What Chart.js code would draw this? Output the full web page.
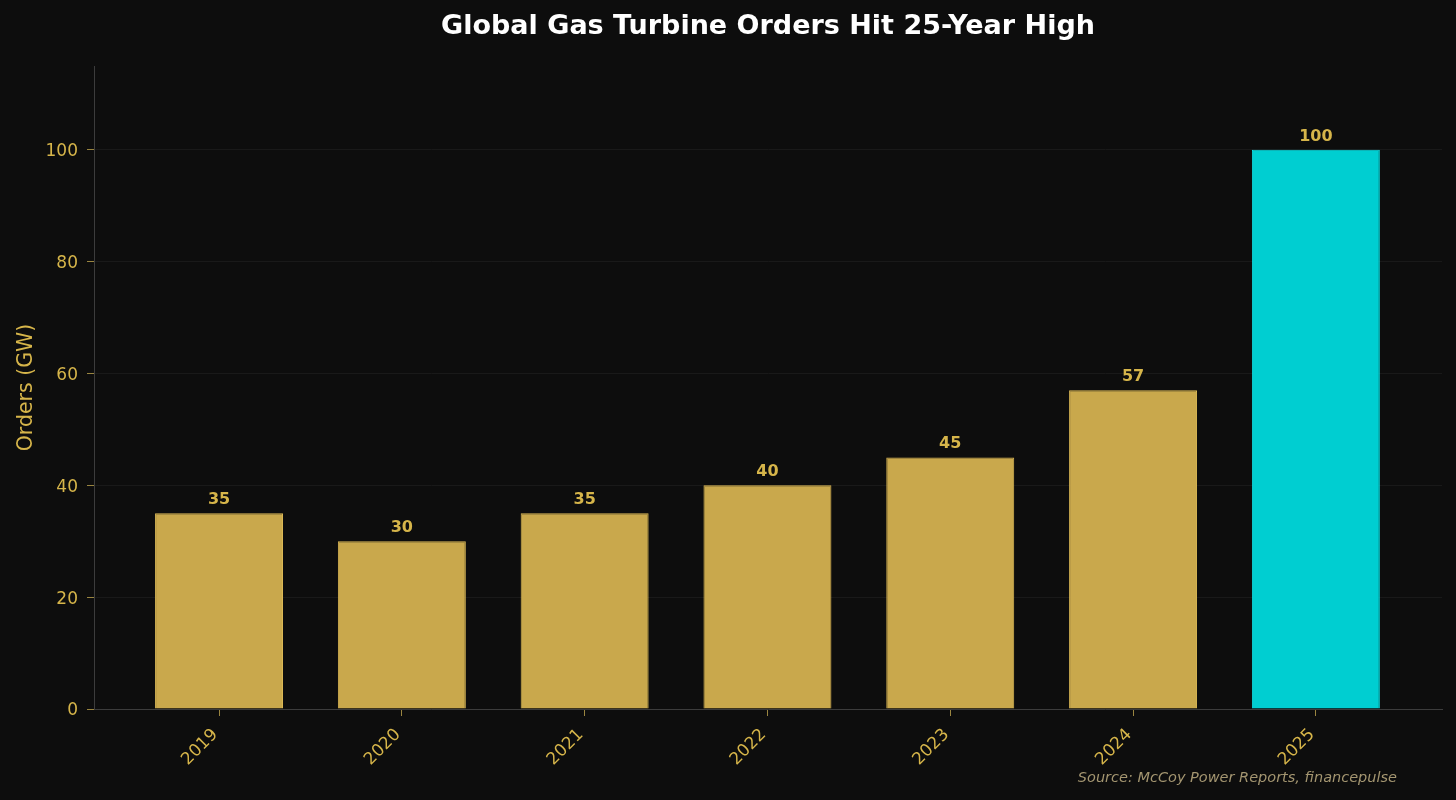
<!DOCTYPE html>
<html>
<head>
<meta charset="utf-8">
<script src="https://cdn.jsdelivr.net/npm/chart.js@4"></script>
<style>
  html, body { margin: 0; padding: 0; background: #0d0d0d; }
  #wrap { width: 1456px; height: 800px; position: relative; }
</style>
</head>
<body>
<div id="wrap"><canvas id="turbineChart"></canvas></div>
<script>
// Orders by year, GW
const years = ['2019', '2020', '2021', '2022', '2023', '2024', '2025'];
const orders = [35, 30, 35, 40, 45, 57, 100];
const yTicks = [0, 20, 40, 60, 80, 100];

const gold = '#c9a84c';
const cyan = '#00ced1';
const labelColor = '#d6b54a';
const font = 'DejaVu Sans';

// bar value labels + title + source note
const extras = {
    id: 'extras',
    afterDatasetsDraw(chart) {
        const ctx = chart.ctx;
        const area = chart.chartArea;
        ctx.save();
        ctx.fillStyle = labelColor;
        ctx.font = 'bold 16px "' + font + '"';
        ctx.textAlign = 'center';
        ctx.textBaseline = 'alphabetic';
        chart.getDatasetMeta(0).data.forEach((bar, i) => {
            ctx.fillText(String(orders[i]), bar.x, bar.y - 9);
        });

        ctx.fillStyle = '#ffffff';
        ctx.font = 'bold 27px "' + font + '"';
        ctx.textBaseline = 'middle';
        ctx.fillText('Global Gas Turbine Orders Hit 25-Year High', (area.left + area.right) / 2, 27);

        ctx.fillStyle = '#a39570';
        ctx.font = 'italic 14.5px "' + font + '"';
        ctx.textAlign = 'right';
        ctx.fillText('Source: McCoy Power Reports, financepulse', 1397, 778);
        ctx.restore();
    }
};

new Chart(document.getElementById('turbineChart'), {
    type: 'bar',
    data: {
        datasets: [{
            data: orders.map((v, i) => ({ x: i, y: v })),
            backgroundColor: orders.map((v, i) => i === orders.length - 1 ? cyan : gold),
            borderColor: orders.map((v, i) => i === orders.length - 1 ? '#10e0e3' : '#dcb955'),
            borderWidth: 1,
            barPercentage: 0.7,
            categoryPercentage: 1.0
        }]
    },
    options: {
        responsive: true,
        maintainAspectRatio: false,
        animation: false,
        layout: { padding: { left: 0, top: 66, right: 14, bottom: 0 } },
        plugins: { legend: { display: false }, tooltip: { enabled: false } },
        scales: {
            x: {
                type: 'linear',
                offset: false,
                min: -0.684,
                max: 6.69,
                afterBuildTicks: s => { s.ticks = years.map((y, i) => ({ value: i })); },
                afterFit: s => { s.height = 91; },
                grid: { offset: false, drawOnChartArea: false, tickColor: '#9a8540', tickLength: 7 },
                border: { color: '#3c3c3c', width: 1 },
                ticks: {
                    color: labelColor,
                    font: { family: font, size: 17 },
                    minRotation: 45,
                    maxRotation: 45,
                    padding: 5,
                    // trailing space nudges the rotated label down-left like the reference
                    callback: v => years[v] + ' '
                }
            },
            y: {
                min: 0,
                max: 115,
                afterBuildTicks: s => { s.ticks = yTicks.map(v => ({ value: v })); },
                afterFit: s => { s.width = 94; },
                grid: { color: '#191919', tickColor: '#9a8540', tickLength: 7 },
                border: { color: '#3c3c3c', width: 1 },
                ticks: {
                    color: labelColor,
                    font: { family: font, size: 17 },
                    padding: 9,
                    labelOffset: 2
                },
                title: {
                    display: true,
                    text: 'Orders (GW)',
                    color: labelColor,
                    font: { family: font, size: 20.5 },
                    padding: { top: 14, bottom: 4 }
                }
            }
        }
    },
    plugins: [extras]
});
</script>
</body>
</html>
